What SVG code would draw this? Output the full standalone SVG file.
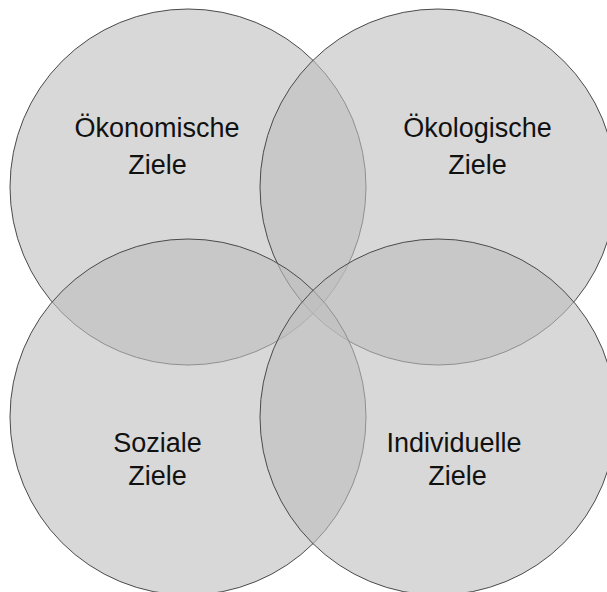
<svg xmlns="http://www.w3.org/2000/svg" width="607" height="592" viewBox="0 0 607 592">
  <style>
    .c { fill: #bebebe; fill-opacity: 0.6; stroke: #4a4a4a; stroke-width: 1; }
    .t { font-family: "Liberation Sans", Arial, sans-serif; font-size: 27px; fill: #111; text-anchor: middle; }
  </style>
  <rect x="0" y="0" width="607" height="592" fill="#ffffff"/>
  <g id="oekonomische">
    <circle class="c" cx="188" cy="187" r="178"/>
  </g>
  <g id="oekologische">
    <circle class="c" cx="438" cy="187" r="178"/>
  </g>
  <g id="soziale">
    <circle class="c" cx="188" cy="417" r="178"/>
  </g>
  <g id="individuelle">
    <circle class="c" cx="438" cy="417" r="178"/>
  </g>
  <g id="labels">
    <text class="t" x="157" y="137">Ökonomische</text>
    <text class="t" x="157.5" y="174">Ziele</text>
    <text class="t" x="477.5" y="137">Ökologische</text>
    <text class="t" x="477.5" y="174">Ziele</text>
    <text class="t" x="157.5" y="452">Soziale</text>
    <text class="t" x="157.5" y="485">Ziele</text>
    <text class="t" x="454" y="452">Individuelle</text>
    <text class="t" x="457.5" y="485">Ziele</text>
  </g>
</svg>
